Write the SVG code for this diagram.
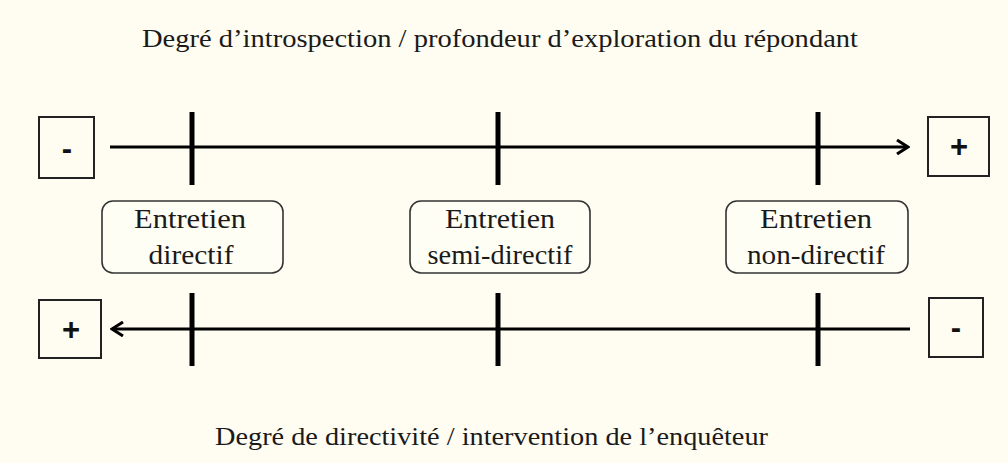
<svg xmlns="http://www.w3.org/2000/svg" width="1008" height="463" viewBox="0 0 1008 463">
<defs>
<style>
.t{font-family:"Liberation Serif","Times New Roman",serif;fill:#1a1a1a}
.ttl{font-size:26px}
.bx{font-size:27px;text-anchor:middle}
.sg{font-family:"Liberation Sans",Arial,sans-serif;font-weight:bold;font-size:31px;text-anchor:middle;fill:#111}
.sq{fill:none;stroke:#222;stroke-width:2}
.rb{fill:#fffef4;stroke:#333;stroke-width:1.6}
.ax{stroke:#000;stroke-width:3;fill:none}
.tk{stroke:#000;stroke-width:5}
</style>
<marker id="ah" viewBox="0 0 14 16" refX="12" refY="8" markerWidth="14" markerHeight="16" markerUnits="userSpaceOnUse" orient="auto">
<path d="M1,1 L12,8 L1,15" fill="none" stroke="#000" stroke-width="3" stroke-linejoin="miter"/>
</marker>
</defs>
<rect width="1008" height="463" fill="#fffdf1"/>
<g id="title-top"><text class="t ttl" x="142" y="47" textLength="716" lengthAdjust="spacingAndGlyphs">Degré d’introspection / profondeur d’exploration du répondant</text></g>
<g id="title-bottom"><text class="t ttl" x="215" y="445" textLength="553" lengthAdjust="spacingAndGlyphs">Degré de directivité / intervention de l’enquêteur</text></g>
<g id="connectors">
<line class="ax" x1="110" y1="147" x2="908" y2="147" marker-end="url(#ah)"/>
<line class="tk" x1="192" y1="112" x2="192" y2="185"/>
<line class="tk" x1="498" y1="112" x2="498" y2="185"/>
<line class="tk" x1="818" y1="112" x2="818" y2="185"/>
<line class="ax" x1="910" y1="329" x2="112" y2="329" marker-end="url(#ah)"/>
<line class="tk" x1="192" y1="293" x2="192" y2="366"/>
<line class="tk" x1="498" y1="293" x2="498" y2="366"/>
<line class="tk" x1="818" y1="293" x2="818" y2="366"/>
</g>
<g id="minus-top"><rect class="sq" x="39" y="117" width="55" height="61"/><text class="sg" x="67" y="159">-</text></g>
<g id="plus-top"><rect class="sq" x="928" y="117" width="61" height="59"/><text class="sg" x="959" y="157">+</text></g>
<g id="plus-bottom"><rect class="sq" x="39" y="300" width="62" height="58"/><text class="sg" x="71" y="340">+</text></g>
<g id="minus-bottom"><rect class="sq" x="929" y="298" width="54" height="59"/><text class="sg" x="956" y="338">-</text></g>
<g id="node-directif"><rect class="rb" x="102" y="201" width="181" height="72" rx="11"/><text class="t bx" x="190" y="228" textLength="112" lengthAdjust="spacingAndGlyphs">Entretien</text><text class="t bx" x="191" y="264" textLength="85" lengthAdjust="spacingAndGlyphs">directif</text></g>
<g id="node-semi"><rect class="rb" x="410" y="201" width="180" height="72" rx="11"/><text class="t bx" x="500" y="228" textLength="110" lengthAdjust="spacingAndGlyphs">Entretien</text><text class="t bx" x="500" y="264" textLength="145" lengthAdjust="spacingAndGlyphs">semi-directif</text></g>
<g id="node-non"><rect class="rb" x="726" y="201" width="182" height="72" rx="11"/><text class="t bx" x="816" y="228" textLength="112" lengthAdjust="spacingAndGlyphs">Entretien</text><text class="t bx" x="816" y="264" textLength="138" lengthAdjust="spacingAndGlyphs">non-directif</text></g>
</svg>
